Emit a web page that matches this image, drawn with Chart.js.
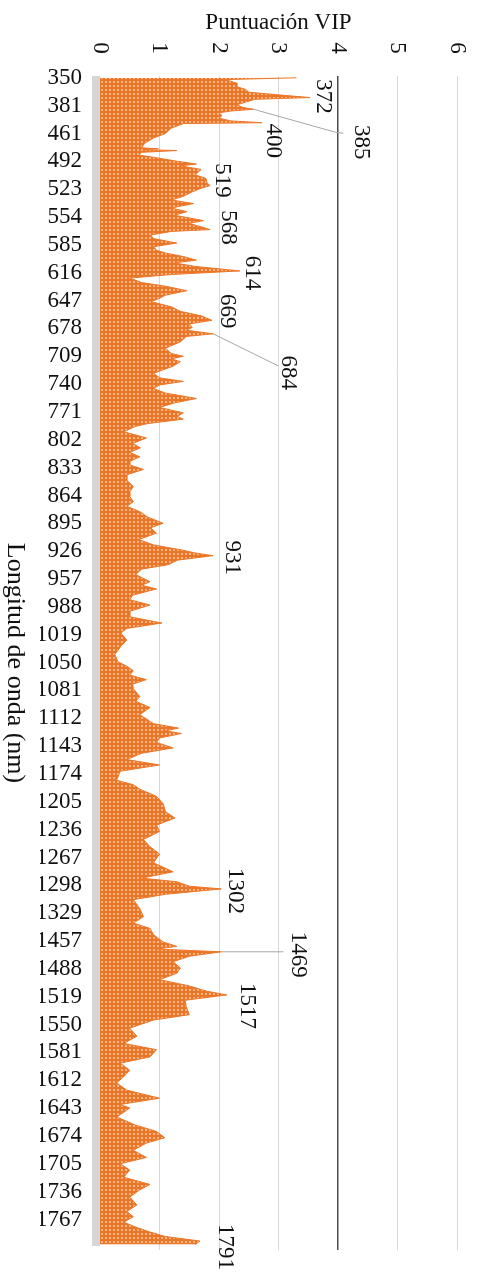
<!DOCTYPE html>
<html>
<head>
<meta charset="utf-8">
<script src="https://cdn.jsdelivr.net/npm/chart.js@4.4.1/dist/chart.umd.min.js"></script>
<style>
  html, body { margin: 0; padding: 0; background: #fff; }
  canvas { display: block; }
</style>
</head>
<body>
<canvas id="vipChart" width="479" height="1272"></canvas>
<script>
// VIP scores, by wavelength (nm)
const wavelengths = [
  350, 352, 356, 360, 363, 366, 369, 372, 374, 377, 380, 383, 385, 387, 389, 392, 395, 398, 400,
  450, 455, 461, 466, 472, 477, 478, 479, 480, 482, 485, 488, 492, 495, 497, 501, 507, 511, 516,
  519, 522, 526, 531, 535, 539, 544, 548, 552, 558, 561, 568, 570, 574, 578, 583, 587, 591, 594,
  598, 602, 605, 609, 614, 618, 622, 627, 631, 636, 641, 646, 648, 654, 659, 664, 669, 673, 677,
  680, 684, 687, 693, 700, 706, 709, 712, 715, 720, 728, 733, 737, 741, 745, 750, 756, 761, 766,
  772, 776, 779, 784, 787, 793, 800, 806, 811, 816, 821, 826, 830, 835, 841, 847, 854, 860, 865,
  871, 876, 882, 888, 895, 900, 906, 913, 919, 925, 928, 931, 936, 941, 946, 952, 960, 964, 968,
  975, 980, 986, 993, 999, 1006, 1012, 1017, 1025, 1032, 1041, 1049, 1054, 1059, 1064, 1069, 1074,
  1079, 1088, 1093, 1100, 1108, 1118, 1123, 1126, 1129, 1134, 1139, 1145, 1151, 1158, 1164, 1171,
  1181, 1186, 1191, 1199, 1207, 1216, 1223, 1231, 1238, 1247, 1255, 1263, 1273, 1283, 1290, 1294,
  1299, 1302, 1308, 1314, 1324, 1333, 1340, 1346,
  1450, 1458, 1463, 1466, 1469, 1474, 1480, 1487, 1493, 1500, 1507, 1513, 1517, 1523, 1530, 1539,
  1545, 1554, 1563, 1571, 1578, 1586, 1593, 1601, 1608, 1615, 1623, 1632, 1639, 1643, 1653, 1662,
  1669, 1676, 1682, 1690, 1698, 1705, 1712, 1720, 1728, 1734, 1742, 1751, 1758, 1764, 1770, 1776,
  1781, 1786, 1791, 1795
];
const vipScores = [
  3.3, 2.1, 2.3, 2.3, 2.45, 2.5, 3.0, 3.53, 2.6, 2.45, 2.3, 2.4, 2.58, 2.2, 2.0, 2.05, 2.0, 2.2, 2.72,
  1.4, 1.2, 1.1, 0.9, 0.75, 0.7, 0.98, 0.72, 1.29, 0.7, 0.65, 0.95, 1.3, 1.62, 1.35, 1.7, 1.6, 1.78, 1.8,
  1.85, 1.7, 1.55, 1.4, 1.2, 1.57, 1.2, 1.46, 1.25, 1.74, 1.5, 1.85, 1.2, 0.85, 0.9, 1.29, 0.9, 0.95, 1.1,
  1.4, 1.62, 1.25, 1.6, 2.35, 1.2, 0.5, 0.7, 1.1, 1.46, 1.1, 0.95, 0.85, 1.2, 1.35, 1.7, 1.88, 1.5, 1.55,
  1.45, 1.9, 1.45, 1.35, 1.1, 1.2, 1.4, 1.2, 1.35, 1.23, 0.9, 1.0, 1.4, 1.0, 0.9, 1.1, 1.62, 1.25, 1.0,
  1.4, 1.3, 1.4, 0.8, 0.6, 0.4, 0.78, 0.55, 0.68, 0.5, 0.67, 0.5, 0.5, 0.73, 0.45, 0.45, 0.56, 0.5, 0.5,
  0.56, 0.45, 0.67, 0.8, 1.06, 0.85, 0.95, 0.65, 0.9, 1.4, 1.6, 1.9, 1.3, 1.15, 0.7, 0.6, 0.84, 0.7, 0.95,
  0.55, 0.5, 0.84, 0.5, 0.5, 1.04, 0.45, 0.35, 0.45, 0.35, 0.25, 0.3, 0.45, 0.56, 0.5, 0.78, 0.55,
  0.56, 0.67, 0.6, 0.84, 0.67, 0.9, 1.32, 1.1, 1.37, 1.0, 0.95, 1.23, 0.7, 0.45, 1.0, 0.34,
  0.28, 0.56, 0.67, 0.95, 1.06, 1.1, 1.26, 0.95, 1.0, 0.73, 0.84, 1.0, 0.9, 1.23, 0.7, 1.29,
  1.5, 2.04, 1.1, 0.56, 0.67, 0.73, 0.56, 0.84,
  0.9, 1.06, 1.29, 0.95, 2.04, 1.5, 1.23, 1.35, 1.29, 1.0, 1.5, 1.8, 2.13, 1.43, 1.45, 1.5,
  0.9, 0.5, 0.62, 0.4, 0.95, 0.84, 0.34, 0.5, 0.4, 0.28, 0.45, 1.0, 0.34, 0.5, 0.28, 0.6,
  0.95, 1.09, 0.78, 0.56, 0.78, 0.34, 0.5, 0.4, 0.84, 0.67, 0.5, 0.62, 0.45, 0.56, 0.4, 0.62,
  0.84, 1.1, 1.68, 1.6
];
// wavelength labels on the category axis
const tickLabels = [350, 381, 461, 492, 523, 554, 585, 616, 647, 678, 709, 740, 771, 802, 833,
  864, 895, 926, 957, 988, 1019, 1050, 1081, 1112, 1143, 1174, 1205, 1236, 1267, 1298, 1329,
  1457, 1488, 1519, 1550, 1581, 1612, 1643, 1674, 1705, 1736, 1767];
const vipTicks = [0, 1, 2, 3, 4, 5, 6];
// annotated peaks
const peakLabels = [372, 385, 400, 519, 568, 614, 669, 684, 931, 1302, 1469, 1517, 1791];

// bands 401-449 and 1350-1446 are missing from the spectrum
function bandIndex(w) {
  if (w <= 400) return w - 350;
  if (w <= 1349) return w - 399;
  return w - 496;
}

const serif = "'Liberation Serif', 'Times New Roman', serif";
const textColor = '#111';

// dotted orange fill
const pat = document.createElement('canvas');
pat.width = 4; pat.height = 4;
const pc = pat.getContext('2d');
pc.fillStyle = '#ec7628';
pc.fillRect(0, 0, 4, 4);
pc.fillStyle = '#f6b888';
pc.fillRect(1, 1, 2, 2);
const dotFill = pc.createPattern(pat, 'repeat');

// where each peak label sits relative to its peak, plus leader points
const labelLayout = {
  372: { dx: 13, dy: -1 },
  385: { dx: 108, dy: 33, leader: [[82, 23], [90, 24]] },
  400: { dx: 11, dy: 18 },
  519: { dx: 12, dy: -5 },
  568: { dx: 18, dy: -2 },
  614: { dx: 12, dy: 2 },
  669: { dx: 15, dy: -9 },
  684: { dx: 75, dy: 39, leader: [[65, 32]] },
  931: { dx: 19, dy: 2 },
  1302: { dx: 14, dy: 2 },
  1469: { dx: 77, dy: 3, leader: [[62, 0]] },
  1517: { dx: 20, dy: 11 },
  1791: { dx: 25, dy: 6 }
};

function drawDown(ctx, text, x, y) {
  ctx.save();
  ctx.translate(x, y);
  ctx.rotate(Math.PI / 2);
  ctx.textAlign = 'center';
  ctx.textBaseline = 'middle';
  ctx.fillText(text, 0, 0);
  ctx.restore();
}

const decorations = {
  id: 'decorations',
  beforeDatasetsDraw(chart) {
    const { ctx, chartArea } = chart;
    ctx.save();
    ctx.fillStyle = '#d6d6d6';
    ctx.fillRect(chartArea.left - 8, chartArea.top, 8, chartArea.bottom - chartArea.top - 4);
    ctx.restore();
  },
  afterDraw(chart) {
    const { ctx, chartArea } = chart;
    const xs = chart.scales.x, ys = chart.scales.y;
    ctx.save();
    ctx.fillStyle = textColor;
    ctx.font = '23px ' + serif;
    ctx.textAlign = 'center';
    ctx.textBaseline = 'middle';
    ctx.fillText('Puntuación VIP', (chartArea.left + chartArea.right) / 2, 23);
    vipTicks.forEach(v => drawDown(ctx, String(v), xs.getPixelForValue(v), 48));
    ctx.font = '26px ' + serif;
    drawDown(ctx, 'Longitud de onda (nm)', 15, (chartArea.top + chartArea.bottom) / 2);
    ctx.font = '23px ' + serif;

    peakLabels.forEach(w => {
      const i = wavelengths.indexOf(w);
      const px = xs.getPixelForValue(vipScores[i]);
      const py = ys.getPixelForValue(bandIndex(w));
      const lay = labelLayout[w];
      if (lay.leader) {
        ctx.strokeStyle = '#a6a6a6';
        ctx.lineWidth = 1;
        ctx.beginPath();
        ctx.moveTo(px, py);
        lay.leader.forEach(p => ctx.lineTo(px + p[0], py + p[1]));
        ctx.stroke();
      }
      drawDown(ctx, String(w), px + lay.dx, py + lay.dy);
    });
    ctx.restore();
  }
};

const ctx = document.getElementById('vipChart').getContext('2d');
const vipChart = new Chart(ctx, {
  type: 'line',
  data: {
    datasets: [{
      label: 'VIP',
      data: wavelengths.map((w, i) => ({ x: vipScores[i], y: bandIndex(w) })),
      borderColor: '#ec7628',
      borderWidth: 1,
      backgroundColor: dotFill,
      fill: 'origin',
      pointRadius: 0,
      tension: 0
    }]
  },
  options: {
    responsive: false,
    animation: false,
    indexAxis: 'y',
    layout: { padding: { top: 76, left: 40, right: 22, bottom: 22 } },
    plugins: { legend: { display: false }, tooltip: { enabled: false } },
    scales: {
      x: {
        type: 'linear',
        position: 'top',
        min: 0,
        max: 6,
        ticks: { display: false, stepSize: 1 },
        grid: {
          drawTicks: false,
          color: c => c.tick.value === 4 ? '#4d4d4d' : (c.tick.value === 0 ? 'rgba(0,0,0,0)' : '#d9d9d9'),
          lineWidth: c => c.tick.value === 4 ? 1.5 : 1
        },
        border: { display: false },
        afterFit: s => { s.height = 0; }
      },
      y: {
        type: 'linear',
        reverse: true,
        min: -2,
        max: 1305,
        afterBuildTicks: s => { s.ticks = tickLabels.map(w => ({ value: bandIndex(w) })); },
        ticks: {
          autoSkip: false,
          padding: 18,
          color: textColor,
          font: { family: serif, size: 23 },
          callback: (v, i) => tickLabels[i]
        },
        grid: { display: false, drawTicks: false },
        border: { display: false },
        afterFit: s => { s.width = 60; s.paddingTop = 0; s.paddingBottom = 0; }
      }
    }
  },
  plugins: [decorations]
});
</script>
</body>
</html>
